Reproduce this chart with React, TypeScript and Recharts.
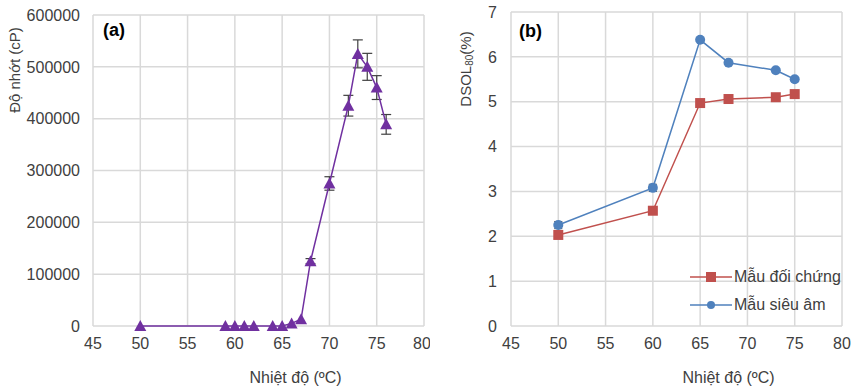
import {
  CartesianGrid,
  ErrorBar,
  Legend,
  Line,
  LineChart,
  XAxis,
  YAxis,
} from "recharts";

// (a) viscosity vs temperature
const tempA = [50, 59, 60, 61, 62, 64, 65, 66, 67, 68, 70, 72, 73, 74, 75, 76];
const viscosity = [0, 0, 0, 0, 0, 0, 0, 5000, 13000, 125000, 275000, 425000, 525000, 500000, 460000, 389000];
const viscErr = [0, 0, 0, 0, 0, 0, 0, 0, 0, 5000, 13000, 20000, 27000, 26000, 23000, 19000];

// (b) DSOL vs temperature
const tempB = [50, 60, 65, 68, 73, 75];
const control = [2.03, 2.57, 4.97, 5.06, 5.1, 5.17];
const ultrasound = [2.25, 3.08, 6.38, 5.87, 5.7, 5.5];
const ultraErr = [0.08, 0.08, 0, 0, 0, 0];

const xTicks = [45, 50, 55, 60, 65, 70, 75, 80];
const yTicksA = [0, 100000, 200000, 300000, 400000, 500000, 600000];
const yTicksB = [0, 1, 2, 3, 4, 5, 6, 7];

const dataA = tempA.map((x, i) => ({ x, v: viscosity[i], err: viscErr[i] }));
const dataB = tempB.map((x, i) => ({ x, c: control[i], u: ultrasound[i], err: ultraErr[i] }));

const FONT = "'Liberation Sans', Arial, sans-serif";
const GRID = "#d9d9d9";
const TEXT = "#404040";
const PURPLE = "#7030A0";
const RED = "#C0504D";
const BLUE = "#4F81BD";

const tick = { fill: TEXT, fontSize: 16, fontFamily: FONT };

const Triangle = (p: any) => {
  const { cx, cy, index } = p;
  if (cx == null || cy == null) return <g key={index} />;
  return (
    <polygon
      key={index}
      points={`${cx},${cy - 6} ${cx - 6},${cy + 5} ${cx + 6},${cy + 5}`}
      fill={PURPLE}
    />
  );
};

const Square = (p: any) => {
  const { cx, cy, index } = p;
  if (cx == null || cy == null) return <g key={index} />;
  return <rect key={index} x={cx - 5} y={cy - 5} width={10} height={10} fill={RED} />;
};

const Dot = (p: any) => {
  const { cx, cy, index } = p;
  if (cx == null || cy == null) return <g key={index} />;
  return <circle key={index} cx={cx} cy={cy} r={5} fill={BLUE} />;
};

const LegendB = () => (
  <div style={{ fontFamily: FONT, fontSize: 16, color: TEXT, lineHeight: "28px" }}>
    <div style={{ display: "flex", alignItems: "center" }}>
      <svg width={44} height={12}>
        <line x1={0} y1={6} x2={42} y2={6} stroke={RED} strokeWidth={1.5} />
        <rect x={16} y={1} width={10} height={10} fill={RED} />
      </svg>
      <span>Mẫu đối chứng</span>
    </div>
    <div style={{ display: "flex", alignItems: "center" }}>
      <svg width={44} height={12}>
        <line x1={0} y1={6} x2={42} y2={6} stroke={BLUE} strokeWidth={1.5} />
        <circle cx={21} cy={6} r={4} fill={BLUE} />
      </svg>
      <span>Mẫu siêu âm</span>
    </div>
  </div>
);

export default function App() {
  return (
    <div style={{ position: "absolute", left: 0, top: 0, width: 854, height: 390, background: "#fff" }}>
      <div style={{ position: "absolute", left: 0, top: 0 }}>
        <LineChart width={430} height={390} data={dataA} margin={{ top: 15, right: 6, bottom: 34, left: 0 }}>
          <CartesianGrid stroke={GRID} strokeWidth={1.5} />
          <XAxis
            dataKey="x"
            type="number"
            domain={[45, 80]}
            ticks={xTicks}
            axisLine={false}
            tickLine={false}
            tickMargin={6}
            tick={tick}
            label={{
              value: "Nhiệt độ (ºC)",
              position: "bottom",
              offset: 16,
              dx: 37,
              fill: TEXT,
              fontSize: 16,
              fontFamily: FONT,
            }}
          />
          <YAxis
            type="number"
            domain={[0, 600000]}
            ticks={yTicksA}
            width={93}
            axisLine={false}
            tickLine={false}
            tickMargin={7}
            tick={tick}
            label={() => (
              <g fontFamily={FONT}>
                <text transform="translate(14,70) rotate(-90)" textAnchor="middle" dominantBaseline="central" fill={TEXT} fontSize={15}>
                  Độ nhớt (cP)
                </text>
                <text x={103} y={36} fill="#000" fontSize={18} fontWeight="bold">(a)</text>
              </g>
            )}
          />
          <Line
            dataKey="v"
            stroke={PURPLE}
            strokeWidth={1.5}
            dot={Triangle}
            activeDot={false}
            isAnimationActive={false}
          >
            <ErrorBar dataKey="err" width={5} stroke="#404040" strokeWidth={1.2} direction="y" />
          </Line>
        </LineChart>
      </div>
      <div style={{ position: "absolute", left: 430, top: 0 }}>
        <LineChart width={424} height={390} data={dataB} margin={{ top: 12, right: 12, bottom: 34, left: 0 }}>
          <CartesianGrid stroke={GRID} strokeWidth={1.5} />
          <XAxis
            dataKey="x"
            type="number"
            domain={[45, 80]}
            ticks={xTicks}
            axisLine={false}
            tickLine={false}
            tickMargin={6}
            tick={tick}
            label={{
              value: "Nhiệt độ (ºC)",
              position: "bottom",
              offset: 16,
              dx: 52,
              fill: TEXT,
              fontSize: 16,
              fontFamily: FONT,
            }}
          />
          <YAxis
            type="number"
            domain={[0, 7]}
            ticks={yTicksB}
            width={81}
            axisLine={false}
            tickLine={false}
            tickMargin={8}
            tick={tick}
            label={() => (
              <g fontFamily={FONT}>
                <text transform="translate(35,69) rotate(-90)" textAnchor="middle" dominantBaseline="central" fill={TEXT} fontSize={15}>
                  DSOL<tspan fontSize={10} dy={4}>80</tspan><tspan dy={-4}>(%)</tspan>
                </text>
                <text x={89} y={37} fill="#000" fontSize={18} fontWeight="bold">(b)</text>
              </g>
            )}
          />
          <Legend
            layout="vertical"
            align="center"
            verticalAlign="middle"
            content={LegendB}
            wrapperStyle={{ position: "absolute", left: 260, top: 263, width: 170 }}
          />
          <Line
            dataKey="c"
            stroke={RED}
            strokeWidth={1.5}
            dot={Square}
            activeDot={false}
            isAnimationActive={false}
          />
          <Line
            dataKey="u"
            stroke={BLUE}
            strokeWidth={1.5}
            dot={Dot}
            activeDot={false}
            isAnimationActive={false}
          >
            <ErrorBar dataKey="err" width={4} stroke="#404040" strokeWidth={1} direction="y" />
          </Line>
        </LineChart>
      </div>
    </div>
  );
}
